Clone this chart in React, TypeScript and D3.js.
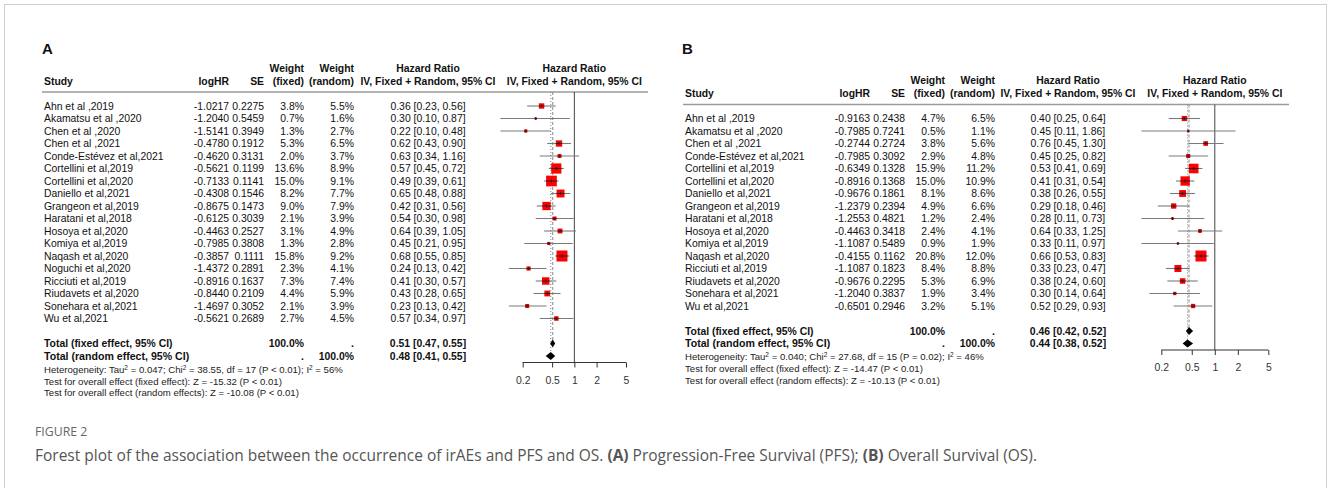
import React, { useEffect, useRef } from "react";
import * as d3 from "d3";

// ---- Panel A: progression-free survival ----
const studiesA = [
  "Ahn et al ,2019", "Akamatsu et al ,2020", "Chen et al ,2020", "Chen et al ,2021",
  "Conde-Estévez et al,2021", "Cortellini et al,2019", "Cortellini et al,2020",
  "Daniello et al,2021", "Grangeon et al,2019", "Haratani et al,2018", "Hosoya et al,2020",
  "Komiya et al,2019", "Naqash et al,2020", "Noguchi et al,2020", "Ricciuti et al,2019",
  "Riudavets et al,2020", "Sonehara et al,2021", "Wu et al,2021",
];
const logHrA = ["-1.0217", "-1.2040", "-1.5141", "-0.4780", "-0.4620", "-0.5621", "-0.7133", "-0.4308", "-0.8675", "-0.6125", "-0.4463", "-0.7985", "-0.3857", "-1.4372", "-0.8916", "-0.8440", "-1.4697", "-0.5621"];
const seA = ["0.2275", "0.5459", "0.3949", "0.1912", "0.3131", "0.1199", "0.1141", "0.1546", "0.1473", "0.3039", "0.2527", "0.3808", "0.1111", "0.2891", "0.1637", "0.2109", "0.3052", "0.2689"];
const wFixedA = [3.8, 0.7, 1.3, 5.3, 2.0, 13.6, 15.0, 8.2, 9.0, 2.1, 3.1, 1.3, 15.8, 2.3, 7.3, 4.4, 2.1, 2.7];
const wRandomA = [5.5, 1.6, 2.7, 6.5, 3.7, 8.9, 9.1, 7.7, 7.9, 3.9, 4.9, 2.8, 9.2, 4.1, 7.4, 5.9, 3.9, 4.5];
const hrA = [0.36, 0.30, 0.22, 0.62, 0.63, 0.57, 0.49, 0.65, 0.42, 0.54, 0.64, 0.45, 0.68, 0.24, 0.41, 0.43, 0.23, 0.57];
const loA = [0.23, 0.10, 0.10, 0.43, 0.34, 0.45, 0.39, 0.48, 0.31, 0.30, 0.39, 0.21, 0.55, 0.13, 0.30, 0.28, 0.13, 0.34];
const hiA = [0.56, 0.87, 0.48, 0.90, 1.16, 0.72, 0.61, 0.88, 0.56, 0.98, 1.05, 0.95, 0.85, 0.42, 0.57, 0.65, 0.42, 0.97];
const totalHrA = [0.51, 0.48];
const totalLoA = [0.47, 0.41];
const totalHiA = [0.55, 0.55];
const statsA = [
  "Heterogeneity: Tau^2 = 0.047; Chi^2 = 38.55, df = 17 (P < 0.01); I^2 = 56%",
  "Test for overall effect (fixed effect): Z = -15.32 (P < 0.01)",
  "Test for overall effect (random effects): Z = -10.08 (P < 0.01)",
];

// ---- Panel B: overall survival ----
const studiesB = [
  "Ahn et al ,2019", "Akamatsu et al ,2020", "Chen et al ,2021", "Conde-Estévez et al,2021",
  "Cortellini et al,2019", "Cortellini et al,2020", "Daniello et al,2021", "Grangeon et al,2019",
  "Haratani et al,2018", "Hosoya et al,2020", "Komiya et al,2019", "Naqash et al,2020",
  "Ricciuti et al,2019", "Riudavets et al,2020", "Sonehara et al,2021", "Wu et al,2021",
];
const logHrB = ["-0.9163", "-0.7985", "-0.2744", "-0.7985", "-0.6349", "-0.8916", "-0.9676", "-1.2379", "-1.2553", "-0.4463", "-1.1087", "-0.4155", "-1.1087", "-0.9676", "-1.2040", "-0.6501"];
const seB = ["0.2438", "0.7241", "0.2724", "0.3092", "0.1328", "0.1368", "0.1861", "0.2394", "0.4821", "0.3418", "0.5489", "0.1162", "0.1823", "0.2295", "0.3837", "0.2946"];
const wFixedB = [4.7, 0.5, 3.8, 2.9, 15.9, 15.0, 8.1, 4.9, 1.2, 2.4, 0.9, 20.8, 8.4, 5.3, 1.9, 3.2];
const wRandomB = [6.5, 1.1, 5.6, 4.8, 11.2, 10.9, 8.6, 6.6, 2.4, 4.1, 1.9, 12.0, 8.8, 6.9, 3.4, 5.1];
const hrB = [0.40, 0.45, 0.76, 0.45, 0.53, 0.41, 0.38, 0.29, 0.28, 0.64, 0.33, 0.66, 0.33, 0.38, 0.30, 0.52];
const loB = [0.25, 0.11, 0.45, 0.25, 0.41, 0.31, 0.26, 0.18, 0.11, 0.33, 0.11, 0.53, 0.23, 0.24, 0.14, 0.29];
const hiB = [0.64, 1.86, 1.30, 0.82, 0.69, 0.54, 0.55, 0.46, 0.73, 1.25, 0.97, 0.83, 0.47, 0.60, 0.64, 0.93];
const totalHrB = [0.46, 0.44];
const totalLoB = [0.42, 0.38];
const totalHiB = [0.52, 0.52];
const statsB = [
  "Heterogeneity: Tau^2 = 0.040; Chi^2 = 27.68, df = 15 (P = 0.02); I^2 = 46%",
  "Test for overall effect (fixed effect): Z = -14.47 (P < 0.01)",
  "Test for overall effect (random effects): Z = -10.13 (P < 0.01)",
];

const axisTicks = [0.2, 0.5, 1, 2, 5];

const FONT = "'Liberation Sans', Arial, sans-serif";
const FS = 10.4;
const STEP = 12.5;

const fmt2 = d3.format(".2f");
const ciText = (h, l, u) => `${fmt2(h)} [${fmt2(l)}, ${fmt2(u)}]`;

function drawPanel(svg, p) {
  const g = svg.append("g").attr("font-family", FONT).attr("fill", "#111");
  const n = p.studies.length;
  const rowY = i => p.row0 + i * STEP;
  const x = d3.scaleLog().domain([0.2, 5]).range(p.axisRange);
  const fx = (p.axisRange[0] + p.axisRange[1]) / 2;
  const txt = (s, xx, yy, anchor = "start", bold = false, size = FS) =>
    g.append("text")
      .attr("x", xx).attr("y", yy).attr("dy", "0.35em")
      .attr("text-anchor", anchor)
      .attr("font-size", size)
      .attr("font-weight", bold ? "bold" : "normal")
      .text(s);

  g.append("text").attr("x", p.labelX).attr("y", 53.5)
    .attr("font-size", 15).attr("font-weight", "bold").text(p.label);

  // header
  const h1 = p.head, h2 = p.head + 13;
  txt("Study", p.studyX, h2, "start", true);
  txt("logHR", p.logX, h2, "end", true);
  txt("SE", p.seX, h2, "end", true);
  txt("Weight", p.wfX, h1, "end", true);
  txt("(fixed)", p.wfX, h2, "end", true);
  txt("Weight", p.wrX, h1, "end", true);
  txt("(random)", p.wrX, h2, "end", true);
  txt("Hazard Ratio", p.ciX, h1, "middle", true);
  txt("IV, Fixed + Random, 95% CI", p.ciX, h2, "middle", true);
  txt("Hazard Ratio", fx, h1, "middle", true);
  txt("IV, Fixed + Random, 95% CI", fx, h2, "middle", true);

  const ruleY = p.head + 24;
  g.append("line").attr("x1", p.studyX - 2).attr("x2", p.ruleEnd)
    .attr("y1", ruleY).attr("y2", ruleY)
    .attr("stroke", "#9a9a9a").attr("stroke-width", 1.6);

  // study rows
  p.studies.forEach((s, i) => {
    const y = rowY(i);
    txt(s, p.studyX, y);
    txt(p.logHr[i], p.logX, y, "end");
    txt(p.se[i], p.seX, y, "end");
    txt(`${p.wFixed[i].toFixed(1)}%`, p.wfX, y, "end");
    txt(`${p.wRandom[i].toFixed(1)}%`, p.wrX, y, "end");
    txt(ciText(p.hr[i], p.lo[i], p.hi[i]), p.ciX, y, "middle");
  });

  // totals
  const yF = rowY(n + 1), yR = rowY(n + 2);
  txt("Total (fixed effect, 95% CI)", p.studyX, yF, "start", true);
  txt("100.0%", p.wfX, yF, "end", true);
  txt(".", p.wrX, yF, "end", true);
  txt(ciText(p.totHr[0], p.totLo[0], p.totHi[0]), p.ciX, yF, "middle", true);
  txt("Total (random effect, 95% CI)", p.studyX, yR, "start", true, 10.6);
  txt(".", p.wfX, yR, "end", true);
  txt("100.0%", p.wrX, yR, "end", true);
  txt(ciText(p.totHr[1], p.totLo[1], p.totHi[1]), p.ciX, yR, "middle", true);

  // heterogeneity / tests
  p.stats.forEach((s, k) => {
    const t = g.append("text").attr("x", p.studyX).attr("y", yR + 13.5 + k * 11.8)
      .attr("dy", "0.35em").attr("font-size", 9.6).attr("fill", "#222");
    const parts = s.split("^2");
    parts.forEach((part, j) => {
      t.append("tspan").attr("dy", j === 0 ? null : 3).text(part);
      if (j < parts.length - 1) {
        t.append("tspan").attr("dy", -3).attr("font-size", 6.5).text("2");
      }
    });
  });

  // forest plot
  const axisY = yR + 6.5;
  const plot = svg.append("g");
  plot.append("line")
    .attr("x1", x(1)).attr("x2", x(1)).attr("y1", ruleY).attr("y2", axisY)
    .attr("stroke", "#444").attr("stroke-width", 1);
  plot.append("line")
    .attr("x1", x(p.totHr[0])).attr("x2", x(p.totHr[0]))
    .attr("y1", ruleY).attr("y2", yF)
    .attr("stroke", "#888").attr("stroke-width", 1).attr("stroke-dasharray", "3,2");
  plot.append("line")
    .attr("x1", x(p.totHr[1])).attr("x2", x(p.totHr[1]))
    .attr("y1", ruleY).attr("y2", yR)
    .attr("stroke", "#888").attr("stroke-width", 1).attr("stroke-dasharray", "1,2");

  const maxW = d3.max(p.wFixed);
  const side = w => Math.max(2.2, 11 * Math.sqrt(w / maxW));
  const rows = p.studies.map((s, i) => ({ i, hr: p.hr[i], lo: p.lo[i], hi: p.hi[i], w: p.wFixed[i] }));

  plot.selectAll("line.ci").data(rows).join("line").attr("class", "ci")
    .attr("x1", d => x(d.lo)).attr("x2", d => x(d.hi))
    .attr("y1", d => rowY(d.i)).attr("y2", d => rowY(d.i))
    .attr("stroke", "#7a7a7a").attr("stroke-width", 1.1);
  plot.selectAll("rect.box").data(rows).join("rect").attr("class", "box")
    .attr("x", d => x(d.hr) - side(d.w) / 2).attr("y", d => rowY(d.i) - side(d.w) / 2)
    .attr("width", d => side(d.w)).attr("height", d => side(d.w))
    .attr("fill", "#f00");
  plot.selectAll("line.inner").data(rows).join("line").attr("class", "inner")
    .attr("x1", d => Math.max(x(d.lo), x(d.hr) - side(d.w) / 2))
    .attr("x2", d => Math.min(x(d.hi), x(d.hr) + side(d.w) / 2))
    .attr("y1", d => rowY(d.i)).attr("y2", d => rowY(d.i))
    .attr("stroke", "#222").attr("stroke-width", 1);
  plot.selectAll("line.tick").data(rows).join("line").attr("class", "tick")
    .attr("x1", d => x(d.hr)).attr("x2", d => x(d.hr))
    .attr("y1", d => rowY(d.i) - 1.5).attr("y2", d => rowY(d.i) + 1.5)
    .attr("stroke", "#222").attr("stroke-width", 1);

  // diamonds
  [0, 1].forEach(k => {
    const yy = rowY(n + 1 + k);
    const hh = 4;
    const pts = [
      [x(p.totLo[k]), yy], [x(p.totHr[k]), yy - hh], [x(p.totHi[k]), yy], [x(p.totHr[k]), yy + hh],
    ];
    plot.append("path").attr("d", d3.line()(pts) + "Z").attr("fill", "#000");
  });

  // axis
  const ax = plot.append("g")
    .attr("transform", `translate(0,${axisY})`)
    .call(d3.axisBottom(x).tickValues(axisTicks).tickFormat(d3.format("")).tickSize(5).tickSizeOuter(0));
  ax.select(".domain").attr("stroke", "#333").attr("d", `M${x(0.2)},0H${x(5)}`);
  ax.selectAll(".tick line").attr("stroke", "#333");
  ax.selectAll(".tick text").attr("font-family", FONT).attr("font-size", FS)
    .attr("fill", "#333").attr("y", 14);
}

export default function App() {
  const ref = useRef(null);

  useEffect(() => {
    const svg = d3.select(ref.current);
    svg.selectAll("*").remove();

    svg.append("rect").attr("x", 4.5).attr("y", 4.5).attr("width", 1322).attr("height", 520)
      .attr("fill", "#fff").attr("stroke", "#d0d0d0").attr("stroke-width", 1);

    drawPanel(svg, {
      label: "A", labelX: 42, studyX: 44, logX: 229, seX: 264, wfX: 304, wrX: 354, ciX: 428,
      axisRange: [522.7, 626], ruleEnd: 648, head: 68, row0: 106,
      studies: studiesA, logHr: logHrA, se: seA, wFixed: wFixedA, wRandom: wRandomA,
      hr: hrA, lo: loA, hi: hiA, totHr: totalHrA, totLo: totalLoA, totHi: totalHiA, stats: statsA,
    });
    drawPanel(svg, {
      label: "B", labelX: 682, studyX: 685, logX: 870, seX: 905, wfX: 945, wrX: 995, ciX: 1068,
      axisRange: [1161.3, 1268.3], ruleEnd: 1289, head: 80.5, row0: 118.5,
      studies: studiesB, logHr: logHrB, se: seB, wFixed: wFixedB, wRandom: wRandomB,
      hr: hrB, lo: loB, hi: hiB, totHr: totalHrB, totLo: totalLoB, totHi: totalHiB, stats: statsB,
    });

    svg.append("text").attr("x", 35).attr("y", 436)
      .attr("font-family", "'Open Sans', sans-serif").attr("font-size", 12.3)
      .attr("fill", "#666").text("FIGURE 2");
    const cap = svg.append("text").attr("x", 35).attr("y", 460.5)
      .attr("font-family", "'Open Sans', sans-serif").attr("font-size", 15.5).attr("fill", "#555");
    cap.append("tspan").text("Forest plot of the association between the occurrence of irAEs and PFS and OS. ");
    cap.append("tspan").attr("font-weight", "bold").text("(A)");
    cap.append("tspan").text(" Progression-Free Survival (PFS); ");
    cap.append("tspan").attr("font-weight", "bold").text("(B)");
    cap.append("tspan").text(" Overall Survival (OS).");
  }, []);

  return (
    <div style={{ position: "absolute", left: 0, top: 0 }}>
      <svg ref={ref} width={1328} height={488} style={{ display: "block", background: "#fff" }} />
    </div>
  );
}
